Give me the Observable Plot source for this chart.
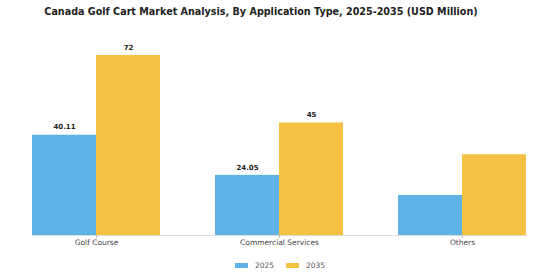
<!DOCTYPE html>
<html><head><meta charset="utf-8">
<script src="https://cdn.jsdelivr.net/npm/d3@7"></script>
<script src="https://cdn.jsdelivr.net/npm/@observablehq/plot@0.6"></script>
<style>
body{margin:0;background:#fff;font-family:"DejaVu Sans",sans-serif;}
#wrap{position:relative;width:560px;height:280px;overflow:hidden;}
#title{position:absolute;top:6px;left:-19px;width:560px;text-align:center;font-weight:bold;font-size:9.6px;color:#222;}
#chart{position:absolute;top:0;left:0;}
#legend{position:absolute;top:261px;left:0;width:560px;display:flex;justify-content:center;align-items:center;font-size:7.5px;color:#555;}
.item{display:flex;align-items:center;margin:0 6px;}
.sw{width:13px;height:5px;margin-right:7px;}
</style></head>
<body>
<div id="wrap">
<div id="chart"></div>
<div id="title">Canada Golf Cart Market Analysis, By Application Type, 2025-2035 (USD Million)</div>
<div id="legend"></div>
</div>
<script>
const categories = ["Golf Course","Commercial Services","Others"];
const years = ["2025","2035"];
const values2025 = [40.11, 24.05, 16];
const values2035 = [72, 45, 32.3];
const labels2025 = ["40.11","24.05",null];
const labels2035 = ["72","45",null];
const colors = ["#5db3e6","#f5c143"];

const data = categories.flatMap((c,i)=>[
  {category:c, year:years[0], value:values2025[i], label:labels2025[i]},
  {category:c, year:years[1], value:values2035[i], label:labels2035[i]}
]);

const chart = Plot.plot({
  width:560, height:255, marginTop:35, marginBottom:20, marginLeft:4, marginRight:5,
  style:{fontFamily:"DejaVu Sans, sans-serif", background:"transparent"},
  fx:{domain:categories, padding:0.3, paddingOuter:0.15, label:null},
  x:{domain:years, axis:null, padding:0},
  y:{domain:[0,80], axis:null},
  color:{domain:years, range:colors},
  marks:[
    Plot.frame({anchor:"bottom", stroke:"#ddd", facet:"super"}),
    Plot.barY(data,{fx:"category", x:"year", y:"value", fill:"year"}),
    Plot.text(data.filter(d=>d.label),{fx:"category", x:"year", y:"value", text:"label", dy:-8, fontWeight:"bold", fontSize:7, fill:"#222"}),
    Plot.axisFx({anchor:"bottom", tickSize:3, tickPadding:1, fontSize:7.5, color:"#444", stroke:"#bbb", label:null})
  ]
});
document.getElementById("chart").appendChild(chart);

const legend = document.getElementById("legend");
years.forEach((y,i)=>{
  const it=document.createElement("div"); it.className="item";
  const sw=document.createElement("div"); sw.className="sw"; sw.style.background=colors[i];
  const t=document.createElement("span"); t.textContent=y;
  it.appendChild(sw); it.appendChild(t); legend.appendChild(it);
});
</script>
</body></html>
